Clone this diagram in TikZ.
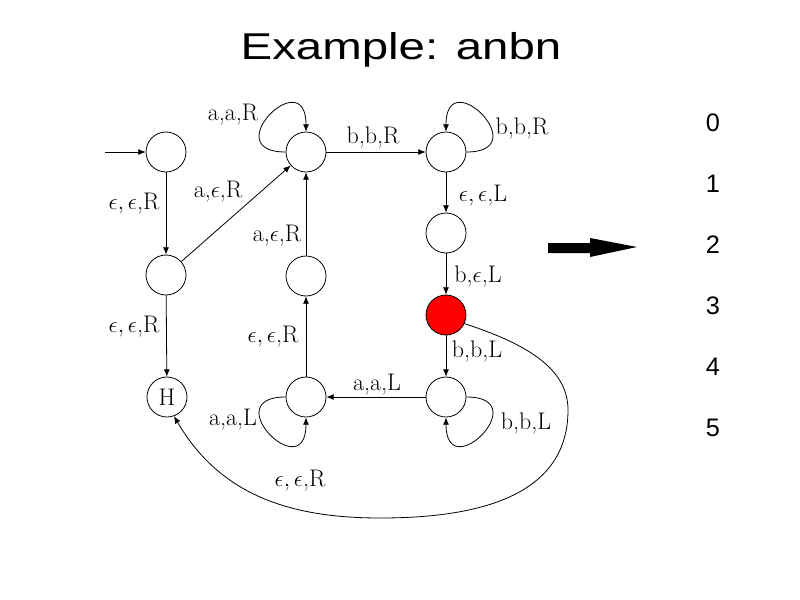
\documentclass[tikz,border=0pt]{standalone}
\usepackage{amsmath}
\usepackage{fontspec}
\usepackage{tikz}
\usepackage{xcolor}
\usetikzlibrary{arrows.meta}
\newfontfamily\slidefont{Liberation Sans}

\begin{document}
\begin{tikzpicture}[x=0.75pt,y=-0.75pt,
    state/.style={draw,circle,minimum size=30pt,inner sep=0pt,line width=0.6pt,
      font=\fontsize{18}{20}\selectfont},
    current/.style={state,fill=red},
    lbl/.style={inner sep=1pt,font=\fontsize{18}{20}\selectfont},
    trans/.style={line width=0.6pt,-{Latex[length=5.5pt,width=4.5pt]}}]
  \useasboundingbox (0,0) rectangle (800,600);

  \node[anchor=base,font=\slidefont\fontsize{28}{32}\selectfont] (title) at (401,59)
    {\scalebox{1.27}[1]{Example: anbn}};

  \node[state] (q0) at (166,152) {};
  \node[state] (q1) at (306,152) {};
  \node[state] (q2) at (446,152) {};
  \node[state] (q3) at (446,233) {};
  \node[current] (q4) at (446,315) {};
  \node[state] (q5) at (446,397) {};
  \node[state] (q6) at (306,397) {};
  \node[state] (q7) at (306,276) {};
  \node[state] (q8) at (166,275) {};
  \node[state] (H) at (167,397) {H};
  \coordinate (start) at (105,152);

  \draw[trans] (start) -- (q0);
  \draw[trans] (q0) -- (q8);
  \draw[trans] (q8) -- (q1);
  \draw[trans] (q8) -- (H);
  \draw[trans] (q1) -- (q2);
  \draw[trans] (q2) -- (q3);
  \draw[trans] (q3) -- (q4);
  \draw[trans] (q4) -- (q5);
  \draw[trans] (q5) -- (q6);
  \draw[trans] (q6) -- (q7);
  \draw[trans] (q7) -- (q1);
  \draw[trans] (q1.west) .. controls +(-70,0) and +(0,-70) .. (q1.north);
  \draw[trans] (q2.east) .. controls +(70,0) and +(0,-70) .. (q2.north);
  \draw[trans] (q5.east) .. controls +(70,0) and +(0,70) .. (q5.south);
  \draw[trans] (q6.west) .. controls +(-70,0) and +(0,70) .. (q6.south);
  \draw[trans] (q4.-25) .. controls (530,345) and (568,370) .. (568,410)
    .. controls (568,500) and (470,518) .. (380,518)
    .. controls (290,518) and (220,495) .. (H.-70);

  \node[lbl] (l1) at (233,115) {a,a,R};
  \node[lbl] (l2) at (373,137) {b,b,R};
  \node[lbl] (l3) at (522,128) {b,b,R};
  \node[lbl] (l4) at (134,204) {$\epsilon,\epsilon$,R};
  \node[lbl] (l5) at (218,192) {a,$\epsilon$,R};
  \node[lbl] (l6) at (277,236) {a,$\epsilon$,R};
  \node[lbl] (l7) at (483,196) {$\epsilon,\epsilon$,L};
  \node[lbl] (l8) at (478,276) {b,$\epsilon$,L};
  \node[lbl] (l9) at (134,327) {$\epsilon,\epsilon$,R};
  \node[lbl] (l10) at (273,337) {$\epsilon,\epsilon$,R};
  \node[lbl] (l11) at (477,351) {b,b,L};
  \node[lbl] (l12) at (377,385) {a,a,L};
  \node[lbl] (l13) at (233,420) {a,a,L};
  \node[lbl] (l14) at (526,423) {b,b,L};
  \node[lbl] (l15) at (300,481) {$\epsilon,\epsilon$,R};

  \fill (548,243) -- (590,243) -- (590,238) -- (637,247) -- (590,257)
    -- (590,253) -- (548,253) -- cycle;

  \foreach \i in {0,...,5}
    \node[font=\slidefont\fontsize{19}{22}\selectfont] (d\i) at (713,123+61*\i) {\i};
\end{tikzpicture}
\end{document}
